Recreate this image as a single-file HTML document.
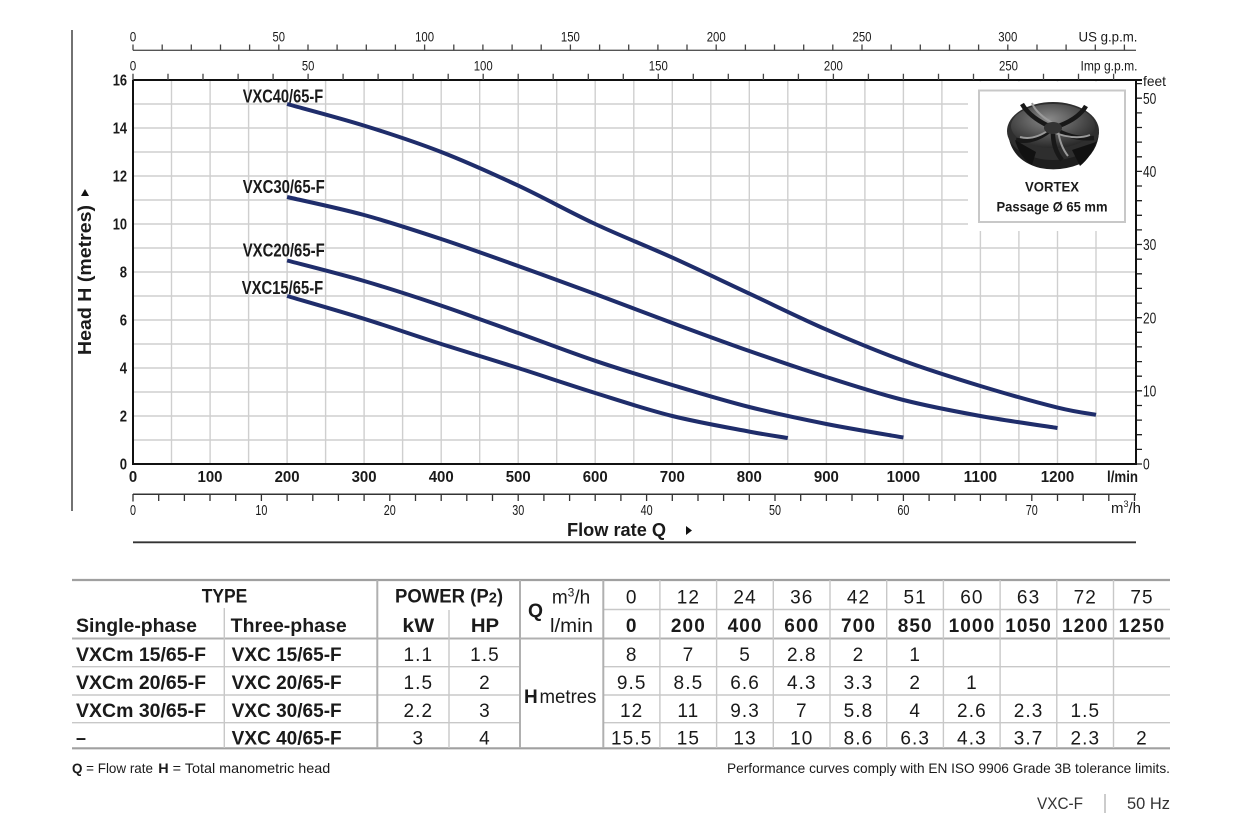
<!DOCTYPE html>
<html><head><meta charset="utf-8"><style>
html,body{margin:0;padding:0;background:#fff;}
svg{display:block;}
text{font-family:"Liberation Sans",Arial,sans-serif;fill:#1a1a1a;}
.b{font-weight:bold;}
.ax{font-size:14px;}
.lm{font-size:16px;font-weight:bold;}
.m3{font-size:15px;}
.ft{font-size:16px;}
.cl{font-size:18px;font-weight:bold;}
.tb{font-size:19px;}
.tn{font-size:19px;letter-spacing:1.1px;}
</style></head><body>
<svg width="1240" height="832" viewBox="0 0 1240 832" xmlns="http://www.w3.org/2000/svg">
<defs>
<radialGradient id="ig" cx="0.45" cy="0.35" r="0.7">
<stop offset="0" stop-color="#8a8a8a"/><stop offset="0.6" stop-color="#4a4a4a"/><stop offset="1" stop-color="#222"/>
</radialGradient>
</defs>
<rect width="1240" height="832" fill="#fff"/>
<line x1="72" y1="30" x2="72" y2="511" stroke="#444" stroke-width="1.5"/>

<path d="M171.5,81V463M210.1,81V463M248.6,81V463M287.1,81V463M325.6,81V463M364.1,81V463M402.6,81V463M441.2,81V463M479.7,81V463M518.2,81V463M556.7,81V463M595.2,81V463M633.8,81V463M672.3,81V463M710.8,81V463M749.3,81V463M787.8,81V463M826.4,81V463M864.9,81V463M903.4,81V463M941.9,81V463M980.4,81V463M1018.9,81V463M1057.5,81V463M1096,81V463
M134,104H1135M134,128H1135M134,152H1135M134,176H1135M134,200H1135M134,224H1135M134,248H1135M134,272H1135M134,296H1135M134,320H1135M134,344H1135M134,368H1135M134,392H1135M134,416H1135M134,440H1135" stroke="#cfcfcf" stroke-width="1.4" fill="none"/>

<rect x="968" y="81.5" width="167" height="149.5" fill="#fff"/>
<rect x="979" y="90.5" width="146" height="131.5" fill="#fff" stroke="#c8c8c8" stroke-width="2"/>
<g>
<path d="M1008,132 Q1010,160 1040,168 Q1060,172 1080,164 Q1098,152 1099,132 Z" fill="#1e1e1e"/>
<ellipse cx="1053" cy="131" rx="46" ry="29" fill="#2e2e2e"/>
<ellipse cx="1053" cy="126" rx="42" ry="22" fill="url(#ig)"/>
<path d="M1053,128 Q1030,118 1022,104 M1053,128 Q1078,120 1086,106 M1053,128 Q1072,140 1094,138 M1053,128 Q1034,144 1016,140 M1053,128 Q1052,148 1062,160" stroke="#181818" stroke-width="4.5" fill="none"/>
<path d="M1056,125 Q1036,114 1032,103 M1050,131 Q1074,141 1090,135 M1050,129 Q1034,141 1020,137 M1058,130 Q1060,146 1068,156" stroke="#9a9a9a" stroke-width="2" fill="none"/>
<ellipse cx="1053" cy="128" rx="9" ry="6" fill="#333"/>
<path d="M1015,140 Q1020,158 1032,165 L1036,152 Z M1072,150 L1080,166 Q1092,156 1096,142 Z" fill="#111"/>
</g>
<text x="1052" y="191.5" class="b" font-size="14" text-anchor="middle" textLength="54" lengthAdjust="spacingAndGlyphs">VORTEX</text>
<text x="1052" y="211.5" class="b" font-size="14" text-anchor="middle" textLength="111" lengthAdjust="spacingAndGlyphs">Passage Ø 65 mm</text>

<g stroke="#1f2d6b" stroke-width="4" fill="none" stroke-linejoin="round">
<path d="M287.1,104 C299.9,107.6 338.4,117.6 364.1,125.6 S415.5,142 441.2,152 S492.5,173.6 518.2,185.6 S569.5,212 595.2,224 S646.6,246 672.3,257.6 S723.6,281.6 749.3,293.6 S800.7,318.4 826.4,329.6 S877.7,351.4 903.4,360.8 S954.7,378.2 980.4,386 S1038.2,402.8 1057.5,407.6 S1089.6,413.6 1096,414.8"/>
<path d="M287.1,197 C299.9,200 338.4,208 364.1,215 S415.5,230.5 441.2,239 S492.5,256.8 518.2,266 S569.5,284.5 595.2,294 S646.6,313.5 672.3,323 S723.6,342 749.3,351 S800.7,368.8 826.4,377 S877.7,393.5 903.4,400 S954.7,411.3 980.4,416 S1044.7,426 1057.5,428"/>
<path d="M287.1,260.5 C299.9,263.9 338.4,273.5 364.1,281 S415.5,296.9 441.2,305.6 S492.5,323.8 518.2,333 S569.5,352.1 595.2,360.8 S646.6,377.3 672.3,385 S723.6,400.5 749.3,407 S800.7,418.9 826.4,424 S890.6,435.3 903.4,437.5"/>
<path d="M287.1,296 C299.9,299.8 338.4,310.8 364.1,318.8 S415.5,335.8 441.2,344 S492.5,359.8 518.2,368 S569.5,385 595.2,393 S646.6,409.6 672.3,416 S730,427.9 749.3,431.6 S781.4,436.9 787.8,438"/>
</g>
<text x="242.7" y="102.7" class="cl" textLength="80.5" lengthAdjust="spacingAndGlyphs">VXC40/65-F</text>
<text x="242.7" y="193" class="cl" textLength="82" lengthAdjust="spacingAndGlyphs">VXC30/65-F</text>
<text x="242.7" y="256.7" class="cl" textLength="82" lengthAdjust="spacingAndGlyphs">VXC20/65-F</text>
<text x="241.7" y="294" class="cl" textLength="81.5" lengthAdjust="spacingAndGlyphs">VXC15/65-F</text>

<path d="M133,80V464H1136V80H133M1136,80H1142" stroke="#111" stroke-width="2" fill="none"/>

<line x1="133" y1="50.3" x2="1136" y2="50.3" stroke="#555" stroke-width="1.4"/>
<path d="M133,44.5V50.3M162.2,44.5V50.3M191.3,44.5V50.3M220.5,44.5V50.3M249.6,44.5V50.3M278.8,44.5V50.3M308,44.5V50.3M337.1,44.5V50.3M366.3,44.5V50.3M395.4,44.5V50.3M424.6,44.5V50.3M453.8,44.5V50.3M482.9,44.5V50.3M512.1,44.5V50.3M541.2,44.5V50.3M570.4,44.5V50.3M599.6,44.5V50.3M628.7,44.5V50.3M657.9,44.5V50.3M687,44.5V50.3M716.2,44.5V50.3M745.4,44.5V50.3M774.5,44.5V50.3M803.7,44.5V50.3M832.8,44.5V50.3M862,44.5V50.3M891.2,44.5V50.3M920.3,44.5V50.3M949.5,44.5V50.3M978.6,44.5V50.3M1007.8,44.5V50.3M1037,44.5V50.3M1066.1,44.5V50.3M1095.3,44.5V50.3M1124.4,44.5V50.3" stroke="#444" stroke-width="1.3"/>
<g class="ax" text-anchor="middle">
<text x="133" y="41.5" textLength="6.5" lengthAdjust="spacingAndGlyphs">0</text>
<text x="278.8" y="41.5" textLength="12.5" lengthAdjust="spacingAndGlyphs">50</text>
<text x="424.6" y="41.5" textLength="19" lengthAdjust="spacingAndGlyphs">100</text>
<text x="570.4" y="41.5" textLength="19" lengthAdjust="spacingAndGlyphs">150</text>
<text x="716.2" y="41.5" textLength="19" lengthAdjust="spacingAndGlyphs">200</text>
<text x="862" y="41.5" textLength="19" lengthAdjust="spacingAndGlyphs">250</text>
<text x="1007.8" y="41.5" textLength="19" lengthAdjust="spacingAndGlyphs">300</text>
</g>
<text x="1137.5" y="41.5" class="ax" text-anchor="end" textLength="59" lengthAdjust="spacingAndGlyphs">US g.p.m.</text>

<path d="M168,73.7V80M203,73.7V80M238.1,73.7V80M273.1,73.7V80M308.1,73.7V80M343.1,73.7V80M378.1,73.7V80M413.2,73.7V80M448.2,73.7V80M483.2,73.7V80M518.2,73.7V80M553.2,73.7V80M588.3,73.7V80M623.3,73.7V80M658.3,73.7V80M693.3,73.7V80M728.3,73.7V80M763.4,73.7V80M798.4,73.7V80M833.4,73.7V80M868.4,73.7V80M903.4,73.7V80M938.5,73.7V80M973.5,73.7V80M1008.5,73.7V80M1043.5,73.7V80M1078.5,73.7V80M1113.6,73.7V80M133,73.7V80" stroke="#444" stroke-width="1.3"/>
<g class="ax" text-anchor="middle">
<text x="133" y="70.5" textLength="6.5" lengthAdjust="spacingAndGlyphs">0</text>
<text x="308.1" y="70.5" textLength="12.5" lengthAdjust="spacingAndGlyphs">50</text>
<text x="483.2" y="70.5" textLength="19" lengthAdjust="spacingAndGlyphs">100</text>
<text x="658.3" y="70.5" textLength="19" lengthAdjust="spacingAndGlyphs">150</text>
<text x="833.4" y="70.5" textLength="19" lengthAdjust="spacingAndGlyphs">200</text>
<text x="1008.5" y="70.5" textLength="19" lengthAdjust="spacingAndGlyphs">250</text>
</g>
<text x="1137.5" y="70.5" class="ax" text-anchor="end" textLength="57" lengthAdjust="spacingAndGlyphs">Imp g.p.m.</text>

<g class="lm" text-anchor="end">
<text x="127" y="85.7" textLength="14.3" lengthAdjust="spacingAndGlyphs">16</text>
<text x="127" y="133.7" textLength="14.3" lengthAdjust="spacingAndGlyphs">14</text>
<text x="127" y="181.7" textLength="14.3" lengthAdjust="spacingAndGlyphs">12</text>
<text x="127" y="229.7" textLength="14.3" lengthAdjust="spacingAndGlyphs">10</text>
<text x="127" y="277.7" textLength="7.3" lengthAdjust="spacingAndGlyphs">8</text>
<text x="127" y="325.7" textLength="7.3" lengthAdjust="spacingAndGlyphs">6</text>
<text x="127" y="373.7" textLength="7.3" lengthAdjust="spacingAndGlyphs">4</text>
<text x="127" y="421.7" textLength="7.3" lengthAdjust="spacingAndGlyphs">2</text>
<text x="127" y="469.7" textLength="7.3" lengthAdjust="spacingAndGlyphs">0</text>
</g>
<text transform="translate(91,355) rotate(-90)" class="b" font-size="18" textLength="150" lengthAdjust="spacingAndGlyphs">Head H (metres)</text>
<polygon points="81,196 89,196 85,189" fill="#111"/>

<path d="M1137,464H1142M1137,449.4H1142M1137,434.7H1142M1137,420.1H1142M1137,405.5H1142M1137,390.8H1142M1137,376.2H1142M1137,361.6H1142M1137,346.9H1142M1137,332.3H1142M1137,317.7H1142M1137,303.1H1142M1137,288.4H1142M1137,273.8H1142M1137,259.2H1142M1137,244.5H1142M1137,229.9H1142M1137,215.3H1142M1137,200.7H1142M1137,186H1142M1137,171.4H1142M1137,156.8H1142M1137,142.1H1142M1137,127.5H1142M1137,112.9H1142M1137,98.2H1142M1137,83.6H1142" stroke="#222" stroke-width="1.3"/>
<g class="ft">
<text x="1143" y="469.7" textLength="6.7" lengthAdjust="spacingAndGlyphs">0</text>
<text x="1143" y="396.5" textLength="13.3" lengthAdjust="spacingAndGlyphs">10</text>
<text x="1143" y="323.4" textLength="13.3" lengthAdjust="spacingAndGlyphs">20</text>
<text x="1143" y="250.2" textLength="13.3" lengthAdjust="spacingAndGlyphs">30</text>
<text x="1143" y="177.1" textLength="13.3" lengthAdjust="spacingAndGlyphs">40</text>
<text x="1143" y="103.9" textLength="13.3" lengthAdjust="spacingAndGlyphs">50</text>
</g>
<text x="1143" y="86" font-size="14" textLength="23" lengthAdjust="spacingAndGlyphs">feet</text>

<g class="lm" text-anchor="middle">
<text x="133" y="482" textLength="8.3" lengthAdjust="spacingAndGlyphs">0</text>
<text x="210" y="482" textLength="25" lengthAdjust="spacingAndGlyphs">100</text>
<text x="287.1" y="482" textLength="25" lengthAdjust="spacingAndGlyphs">200</text>
<text x="364.1" y="482" textLength="25" lengthAdjust="spacingAndGlyphs">300</text>
<text x="441.2" y="482" textLength="25" lengthAdjust="spacingAndGlyphs">400</text>
<text x="518.2" y="482" textLength="25" lengthAdjust="spacingAndGlyphs">500</text>
<text x="595.2" y="482" textLength="25" lengthAdjust="spacingAndGlyphs">600</text>
<text x="672.3" y="482" textLength="25" lengthAdjust="spacingAndGlyphs">700</text>
<text x="749.3" y="482" textLength="25" lengthAdjust="spacingAndGlyphs">800</text>
<text x="826.4" y="482" textLength="25" lengthAdjust="spacingAndGlyphs">900</text>
<text x="903.4" y="482" textLength="33.5" lengthAdjust="spacingAndGlyphs">1000</text>
<text x="980.4" y="482" textLength="33.5" lengthAdjust="spacingAndGlyphs">1100</text>
<text x="1057.5" y="482" textLength="33.5" lengthAdjust="spacingAndGlyphs">1200</text>
</g>
<text x="1138" y="482" class="lm" text-anchor="end" textLength="31" lengthAdjust="spacingAndGlyphs">l/min</text>

<line x1="133" y1="494.3" x2="1136" y2="494.3" stroke="#333" stroke-width="1.5"/>
<path d="M133,494V501.5M158.7,494V501M184.4,494V501M210,494V501M235.7,494V501M261.4,494V501M287.1,494V501M312.8,494V501M338.4,494V501M364.1,494V501M389.8,494V501M415.5,494V501M441.2,494V501M466.8,494V501M492.5,494V501M518.2,494V501M543.9,494V501M569.6,494V501M595.2,494V501M620.9,494V501M646.6,494V501M672.3,494V501M698,494V501M723.6,494V501M749.3,494V501M775,494V501M800.7,494V501M826.4,494V501M852,494V501M877.7,494V501M903.4,494V501M929.1,494V501M954.8,494V501M980.4,494V501M1006.1,494V501M1031.8,494V501M1057.5,494V501M1083.2,494V501M1108.8,494V501M1134.5,494V501" stroke="#333" stroke-width="1.3"/>
<g class="m3" text-anchor="middle">
<text x="133" y="515" textLength="6" lengthAdjust="spacingAndGlyphs">0</text>
<text x="261.4" y="515" textLength="12" lengthAdjust="spacingAndGlyphs">10</text>
<text x="389.8" y="515" textLength="12" lengthAdjust="spacingAndGlyphs">20</text>
<text x="518.2" y="515" textLength="12" lengthAdjust="spacingAndGlyphs">30</text>
<text x="646.6" y="515" textLength="12" lengthAdjust="spacingAndGlyphs">40</text>
<text x="775" y="515" textLength="12" lengthAdjust="spacingAndGlyphs">50</text>
<text x="903.4" y="515" textLength="12" lengthAdjust="spacingAndGlyphs">60</text>
<text x="1031.8" y="515" textLength="12" lengthAdjust="spacingAndGlyphs">70</text>
</g>
<text x="1141" y="513" class="m3" text-anchor="end">m<tspan dy="-6" font-size="9">3</tspan><tspan dy="6">/h</tspan></text>

<text x="567" y="536" class="b" font-size="18" textLength="99" lengthAdjust="spacingAndGlyphs">Flow rate Q</text>
<polygon points="686,526 692,530.5 686,535" fill="#111"/>
<line x1="133" y1="542.3" x2="1136" y2="542.3" stroke="#333" stroke-width="1.8"/>

<g fill="none">
<line x1="72" y1="580" x2="1170" y2="580" stroke="#a0a0a0" stroke-width="2.2"/>
<line x1="72" y1="748.3" x2="1170" y2="748.3" stroke="#a0a0a0" stroke-width="2.2"/>
<line x1="72" y1="638.5" x2="1170" y2="638.5" stroke="#b0b0b0" stroke-width="2"/>
<line x1="603" y1="609.5" x2="1170" y2="609.5" stroke="#c8c8c8" stroke-width="1.4"/>
<path d="M72,666.7H520M603,666.7H1170M72,695H520M603,695H1170M72,722.7H520M603,722.7H1170" stroke="#c8c8c8" stroke-width="1.4"/>
<path d="M224.3,608V748M449,610V748M659.9,580V748M716.6,580V748M773.3,580V748M830,580V748M886.7,580V748M943.4,580V748M1000.1,580V748M1056.8,580V748M1113.5,580V748" stroke="#c8c8c8" stroke-width="1.4"/>
<path d="M377.3,580V748M520,580V748M603.3,580V748" stroke="#b0b0b0" stroke-width="2"/>
</g>
<g class="tb b">
<text x="224.5" y="602.5" text-anchor="middle" textLength="45.6" lengthAdjust="spacingAndGlyphs">TYPE</text>
<text x="76" y="631.8" textLength="121" lengthAdjust="spacingAndGlyphs">Single-phase</text>
<text x="230.7" y="631.8" textLength="116" lengthAdjust="spacingAndGlyphs">Three-phase</text>
<text x="395" y="602.5" textLength="108" lengthAdjust="spacingAndGlyphs">POWER (P<tspan font-size="15">2</tspan>)</text>
<text x="418.3" y="631.8" text-anchor="middle" textLength="31.7" lengthAdjust="spacingAndGlyphs">kW</text>
<text x="485" y="631.8" text-anchor="middle" textLength="28.3" lengthAdjust="spacingAndGlyphs">HP</text>
<text x="76" y="660.8" textLength="130" lengthAdjust="spacingAndGlyphs">VXCm 15/65-F</text>
<text x="76" y="688.8" textLength="130" lengthAdjust="spacingAndGlyphs">VXCm 20/65-F</text>
<text x="76" y="716.8" textLength="130" lengthAdjust="spacingAndGlyphs">VXCm 30/65-F</text>
<text x="76" y="744.5" textLength="10" lengthAdjust="spacingAndGlyphs">–</text>
<text x="231.7" y="660.8" textLength="110" lengthAdjust="spacingAndGlyphs">VXC 15/65-F</text>
<text x="231.7" y="688.8" textLength="110" lengthAdjust="spacingAndGlyphs">VXC 20/65-F</text>
<text x="231.7" y="716.8" textLength="110" lengthAdjust="spacingAndGlyphs">VXC 30/65-F</text>
<text x="231.7" y="744.5" textLength="110" lengthAdjust="spacingAndGlyphs">VXC 40/65-F</text>
<text x="528" y="617" textLength="15" lengthAdjust="spacingAndGlyphs">Q</text>
<text x="524" y="703">H</text>
</g>
<text x="539.5" y="703" class="tb" textLength="57" lengthAdjust="spacingAndGlyphs">metres</text>
<text x="571" y="603.5" class="tb" text-anchor="middle">m<tspan dy="-7" font-size="12">3</tspan><tspan dy="7">/h</tspan></text>
<text x="571.5" y="631.8" class="tb" text-anchor="middle" textLength="43" lengthAdjust="spacingAndGlyphs">l/min</text>

<g class="tn" text-anchor="middle">
<text x="631.7" y="603.5">0</text><text x="688.4" y="603.5">12</text><text x="745.1" y="603.5">24</text><text x="801.8" y="603.5">36</text><text x="858.5" y="603.5">42</text><text x="915.2" y="603.5">51</text><text x="971.9" y="603.5">60</text><text x="1028.6" y="603.5">63</text><text x="1085.3" y="603.5">72</text><text x="1142" y="603.5">75</text>
</g>
<g class="tn b" text-anchor="middle">
<text x="631.7" y="631.8">0</text><text x="688.4" y="631.8">200</text><text x="745.1" y="631.8">400</text><text x="801.8" y="631.8">600</text><text x="858.5" y="631.8">700</text><text x="915.2" y="631.8">850</text><text x="971.9" y="631.8">1000</text><text x="1028.6" y="631.8">1050</text><text x="1085.3" y="631.8">1200</text><text x="1142" y="631.8">1250</text>
</g>
<g class="tn" text-anchor="middle">
<text x="418.3" y="660.8">1.1</text><text x="485" y="660.8">1.5</text>
<text x="418.3" y="688.8">1.5</text><text x="485" y="688.8">2</text>
<text x="418.3" y="716.8">2.2</text><text x="485" y="716.8">3</text>
<text x="418.3" y="744.5">3</text><text x="485" y="744.5">4</text>

<text x="631.7" y="660.8">8</text><text x="688.4" y="660.8">7</text><text x="745.1" y="660.8">5</text><text x="801.8" y="660.8">2.8</text><text x="858.5" y="660.8">2</text><text x="915.2" y="660.8">1</text>

<text x="631.7" y="688.8">9.5</text><text x="688.4" y="688.8">8.5</text><text x="745.1" y="688.8">6.6</text><text x="801.8" y="688.8">4.3</text><text x="858.5" y="688.8">3.3</text><text x="915.2" y="688.8">2</text><text x="971.9" y="688.8">1</text>

<text x="631.7" y="716.8">12</text><text x="688.4" y="716.8">11</text><text x="745.1" y="716.8">9.3</text><text x="801.8" y="716.8">7</text><text x="858.5" y="716.8">5.8</text><text x="915.2" y="716.8">4</text><text x="971.9" y="716.8">2.6</text><text x="1028.6" y="716.8">2.3</text><text x="1085.3" y="716.8">1.5</text>

<text x="631.7" y="744.5">15.5</text><text x="688.4" y="744.5">15</text><text x="745.1" y="744.5">13</text><text x="801.8" y="744.5">10</text><text x="858.5" y="744.5">8.6</text><text x="915.2" y="744.5">6.3</text><text x="971.9" y="744.5">4.3</text><text x="1028.6" y="744.5">3.7</text><text x="1085.3" y="744.5">2.3</text><text x="1142" y="744.5">2</text>
</g>

<text x="72" y="773" font-size="14" textLength="81" lengthAdjust="spacingAndGlyphs"><tspan font-weight="bold">Q</tspan> = Flow rate</text>
<text x="158.3" y="773" font-size="14" textLength="172" lengthAdjust="spacingAndGlyphs"><tspan font-weight="bold">H</tspan> = Total manometric head</text>
<text x="1170" y="773" font-size="14" text-anchor="end" textLength="443" lengthAdjust="spacingAndGlyphs">Performance curves comply with EN ISO 9906 Grade 3B tolerance limits.</text>
<text x="1037" y="809" font-size="17" textLength="46" lengthAdjust="spacingAndGlyphs" style="fill:#333">VXC-F</text>
<line x1="1105" y1="794" x2="1105" y2="813" stroke="#aaa" stroke-width="1.2"/>
<text x="1127" y="809" font-size="17" textLength="43" lengthAdjust="spacingAndGlyphs" style="fill:#333">50 Hz</text>
</svg>
</body></html>
